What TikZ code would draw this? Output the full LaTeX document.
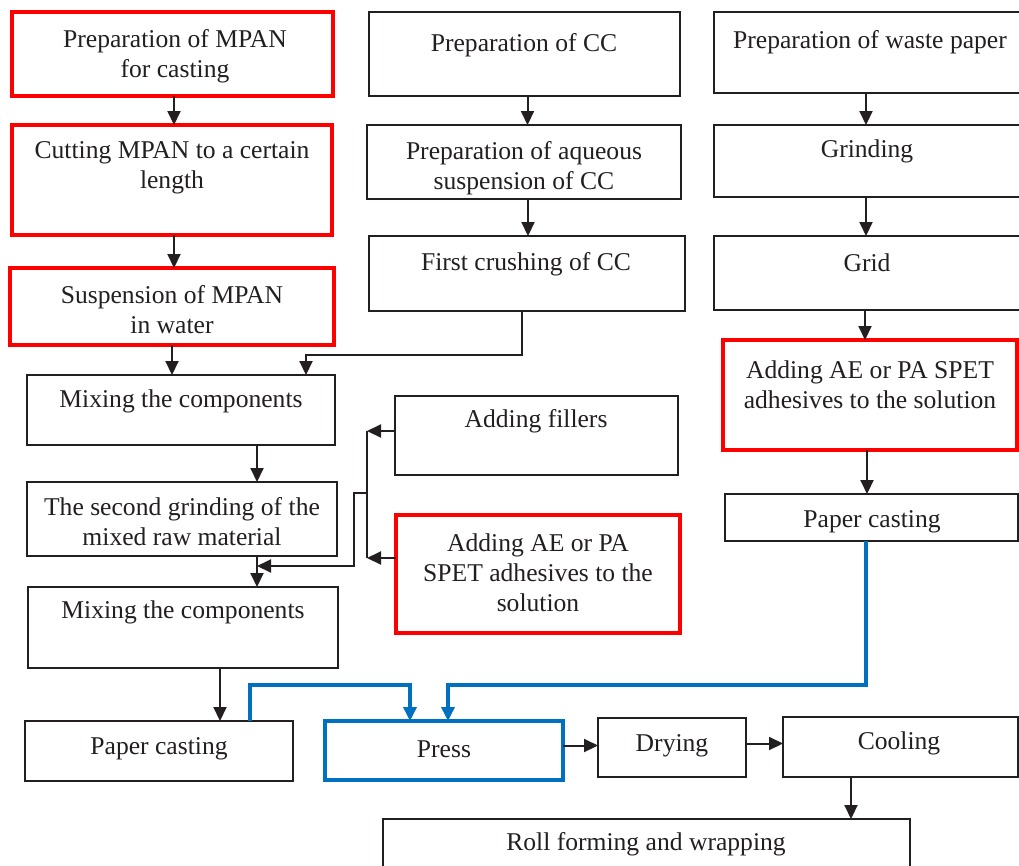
\documentclass[tikz,border=0pt]{standalone}
\usepackage{fontspec}
\setmainfont{Liberation Serif}
\usetikzlibrary{arrows.meta,calc}
\definecolor{myred}{RGB}{255,0,0}
\definecolor{myblue}{RGB}{0,112,192}
\definecolor{ink}{RGB}{35,31,32}
\tikzset{
 bbox/.style={draw=ink, line width=1.3pt, inner sep=0pt, outer sep=0pt},
 rbox/.style={draw=myred, line width=3.3pt, inner sep=0pt, outer sep=0pt},
 ubox/.style={draw=myblue, line width=3.5pt, inner sep=0pt, outer sep=0pt},
 txt/.style={align=center, inner sep=0pt, font=\fontsize{25.6}{30}\selectfont, text=ink, yshift=-2.5pt},
 arr/.style={draw=ink, line width=2pt, -{Triangle[length=14pt,width=13pt]}},
 ln/.style={draw=ink, line width=2pt},
 barr/.style={draw=myblue, line width=3.5pt, -{Triangle[length=14pt,width=13pt]}},
}
% name, style, x1, y1, x2, y2, tx, ty, text
\newcommand\bx[9]{%
 \node[#2, minimum width={#5-#3}, minimum height={#6-#4}, anchor=north west] (#1) at (#3,#4) {};
 \node[txt] (#1t) at (#7,#8) {#9};
}
\begin{document}
\begin{tikzpicture}[x=1pt,y=-1pt]
\useasboundingbox (0,0) rectangle (1019,865);
\fill[white] (0,0) rectangle (1019,865);
\bx{a1}{rbox}{12}{12}{333}{96}{175}{53.5}{Preparation of MPAN\\for casting}
\bx{a2}{rbox}{12}{125}{332}{235}{172}{165}{Cutting MPAN to a certain\\length}
\bx{a3}{rbox}{10}{268}{334}{345}{172}{307.5}{Suspension of MPAN\\in water}
\bx{b1}{bbox}{369}{12}{680}{96}{524}{43}{Preparation of CC}
\bx{b2}{bbox}{367}{125}{681}{199}{524}{165.5}{Preparation of aqueous\\suspension of CC}
\bx{b3}{bbox}{369}{236}{685}{311}{526}{262}{First crushing of CC}
\bx{c1}{bbox}{714}{12}{1026}{93}{870}{40}{Preparation of waste paper}
\bx{c2}{bbox}{714}{125}{1026}{197}{867}{149}{Grinding}
\bx{c3}{bbox}{714}{236}{1026}{310}{867}{260}{Grid}
\bx{c4}{rbox}{723}{340}{1017}{450}{870}{382}{Adding AE or PA SPET\\adhesives to the solution}
\bx{c5}{bbox}{725}{494}{1018}{541}{872}{519}{Paper casting}
\bx{m1}{bbox}{27}{375}{335}{445}{181}{399}{Mixing the components}
\bx{m2}{bbox}{27}{482}{337}{556}{182}{519}{The second grinding of the\\mixed raw material}
\bx{m3}{bbox}{28}{587}{338}{668}{183}{610}{Mixing the components}
\bx{fill}{bbox}{395}{396}{678}{475}{536}{419}{Adding fillers}
\bx{adh}{rbox}{396}{515}{680}{633}{538}{570}{Adding AE or PA\\SPET adhesives to the\\solution}
\bx{pcl}{bbox}{25}{721}{293}{781}{159}{746}{Paper casting}
\bx{press}{ubox}{325}{721}{563}{780}{444}{747}{Press}
\bx{dry}{bbox}{598}{718}{746}{777}{672}{743}{Drying}
\bx{cool}{bbox}{783}{717}{1018}{777}{899}{741}{Cooling}
\bx{roll}{bbox}{383}{819}{910}{875}{646}{842}{Roll forming and wrapping}
% left column
\coordinate (ax1) at ([xshift=1.5pt]a1.south);
\draw[arr] (ax1) -- (ax1 |- a2.north);
\coordinate (ax2) at ([xshift=2pt]a2.south);
\draw[arr] (ax2) -- (ax2 |- a3.north);
\draw[arr] (a3.south) -- (a3.south |- m1.north);
% middle column
\coordinate (bx1) at ([xshift=3pt]b1.south);
\draw[arr] (bx1) -- (bx1 |- b2.north);
\coordinate (bx2) at ([xshift=4pt]b2.south);
\draw[arr] (bx2) -- (bx2 |- b3.north);
\draw[arr] ([xshift=-5pt]b3.south) -- ++(0,44) -| ([xshift=125pt]m1.north);
% right column
\coordinate (cx1) at ([xshift=-4pt]c1.south);
\draw[arr] (cx1) -- (cx1 |- c2.north);
\coordinate (cx2) at ([xshift=-4pt]c2.south);
\draw[arr] (cx2) -- (cx2 |- c3.north);
\coordinate (cx3) at ([xshift=-5pt]c3.south);
\draw[arr] (cx3) -- (cx3 |- c4.north);
\coordinate (cx4) at ([xshift=-3pt]c4.south);
\draw[arr] (cx4) -- (cx4 |- c5.north);
% mixing chain
\coordinate (mx) at ([xshift=76pt]m1.south);
\draw[arr] (mx) -- (mx |- m2.north);
\coordinate (my) at ([xshift=75pt]m2.south);
\draw[arr] (my) -- (my |- m3.north);
\coordinate (j) at (367,493);
\coordinate (f1) at ([yshift=4.5pt]fill.west);
\coordinate (r1) at ([yshift=16pt]adh.west);
\draw[arr] (f1) -- (f1 -| j);
\draw[arr] (r1) -- (r1 -| j);
\draw[ln] (f1 -| j) -- (r1 -| j);
\draw[arr] (j) -- ++(-13,0) |- ($(my)+(0,10)$);
\coordinate (mz) at ([xshift=37pt]m3.south);
\draw[arr] (mz) -- (mz |- pcl.north);
% blue connectors
\draw[barr] ([xshift=91pt]pcl.north) -- ++(0,-36) -| ([xshift=-34pt]press.north);
\draw[barr] ([xshift=-5.5pt]c5.south) -- ++(0,144) -| ([xshift=4pt]press.north);
% bottom row
\coordinate (p1) at ([yshift=5pt]press.east);
\draw[arr] (p1) -- (p1 -| dry.west);
\coordinate (d1) at ([yshift=4pt]dry.east);
\draw[arr] (d1) -- (d1 -| cool.west);
\coordinate (k1) at ([xshift=-49.5pt]cool.south);
\draw[arr] (k1) -- (k1 |- roll.north);
\end{tikzpicture}
\end{document}
